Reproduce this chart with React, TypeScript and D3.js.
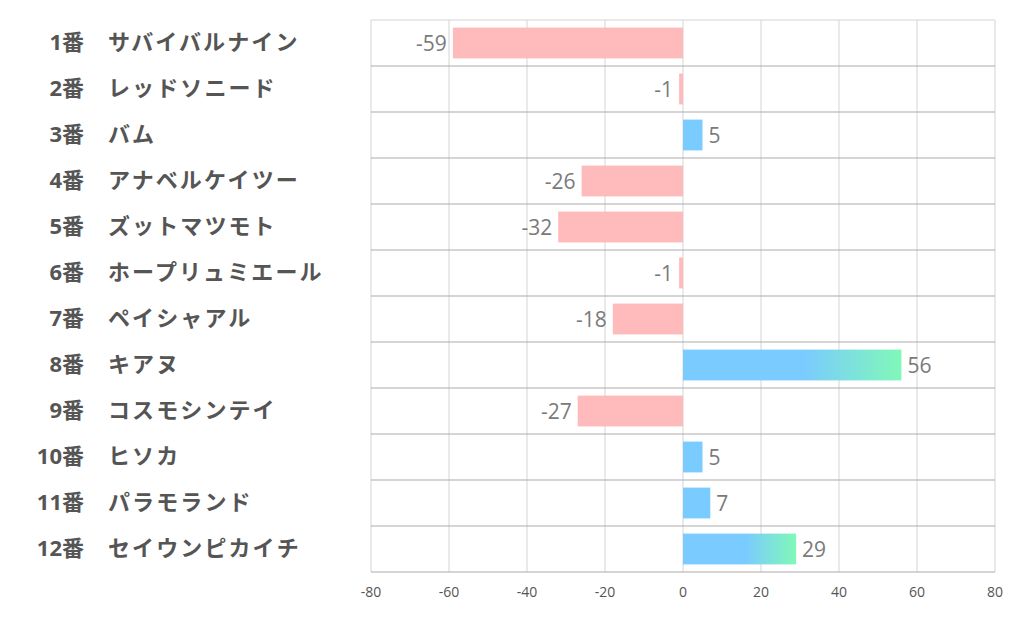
import React from "react";
import * as d3 from "d3";

const numbers = ["1番","2番","3番","4番","5番","6番","7番","8番","9番","10番","11番","12番"];
const names = ["サバイバルナイン","レッドソニード","バム","アナベルケイツー","ズットマツモト","ホープリュミエール","ペイシャアル","キアヌ","コスモシンテイ","ヒソカ","パラモランド","セイウンピカイチ"];
const values = [-59,-1,5,-26,-32,-1,-18,56,-27,5,7,29];
const ticks = [-80,-60,-40,-20,0,20,40,60,80];

const W = 1022, H = 626;
const left = 371, right = 995, top = 20, bottom = 572;

export default function App() {
  const x = d3.scaleLinear().domain([-80, 80]).range([left, right]);
  const y = d3.scaleBand<number>().domain(d3.range(values.length)).range([top, bottom]).paddingInner(0.33).paddingOuter(0.165);
  const row = d3.scaleBand<number>().domain(d3.range(values.length)).range([top, bottom]);
  const font = "'Open Sans', 'Noto Sans CJK JP', sans-serif";
  return (
    <svg width={W} height={H} style={{ position: "absolute", left: 0, top: 0, background: "#fff" }}>
      <defs>
        <linearGradient id="g" x1="0" x2="1" y1="0" y2="0">
          <stop offset="0" stopColor="#7ACBFF" />
          <stop offset="0.55" stopColor="#7ACBFF" />
          <stop offset="1" stopColor="#80F8B8" />
        </linearGradient>
      </defs>
      {ticks.map((t) => (
        <line key={"v" + t} x1={x(t)} x2={x(t)} y1={top} y2={bottom} stroke="#d4d4d4" strokeWidth={1} />
      ))}
      {d3.range(values.length + 1).map((i) => (
        <line key={"h" + i} x1={left} x2={right} y1={top + row.bandwidth() * i} y2={top + row.bandwidth() * i} stroke={i === 0 ? "#d4d4d4" : "#ababab"} strokeWidth={1} />
      ))}
      {values.map((v, i) => {
        const x0 = x(Math.min(0, v)), x1 = x(Math.max(0, v));
        const fill = v < 0 ? "#FFBBBB" : v >= 20 ? "url(#g)" : "#7ACBFF";
        return <rect key={"b" + i} x={x0} y={y(i)} width={Math.max(1, x1 - x0)} height={y.bandwidth()} fill={fill} />;
      })}
      {values.map((v, i) => (
        <text key={"l" + i} x={v < 0 ? x(v) - 6 : x(v) + 6} y={(y(i) ?? 0) + y.bandwidth() / 2} dy="0.36em"
          textAnchor={v < 0 ? "end" : "start"} fontSize={21} fill="#7a7a7a" fontFamily={font}>{v}</text>
      ))}
      {ticks.map((t) => (
        <text key={"t" + t} x={x(t)} y={597} textAnchor="middle" fontSize={14} fill="#555" fontFamily={font}>{t}</text>
      ))}
      {numbers.map((n, i) => (
        <g key={"n" + i}>
          <text x={84} y={(row(i) ?? 0) + row.bandwidth() / 2} dy="0.3em" textAnchor="end" fontSize={22} fontWeight="bold" fill="#555" fontFamily={font}>{n}</text>
          <text x={108} y={(row(i) ?? 0) + row.bandwidth() / 2} dy="0.3em" textAnchor="start" fontSize={22} fontWeight="bold" fill="#555" fontFamily={font} letterSpacing={2.1}>{names[i]}</text>
        </g>
      ))}
    </svg>
  );
}
